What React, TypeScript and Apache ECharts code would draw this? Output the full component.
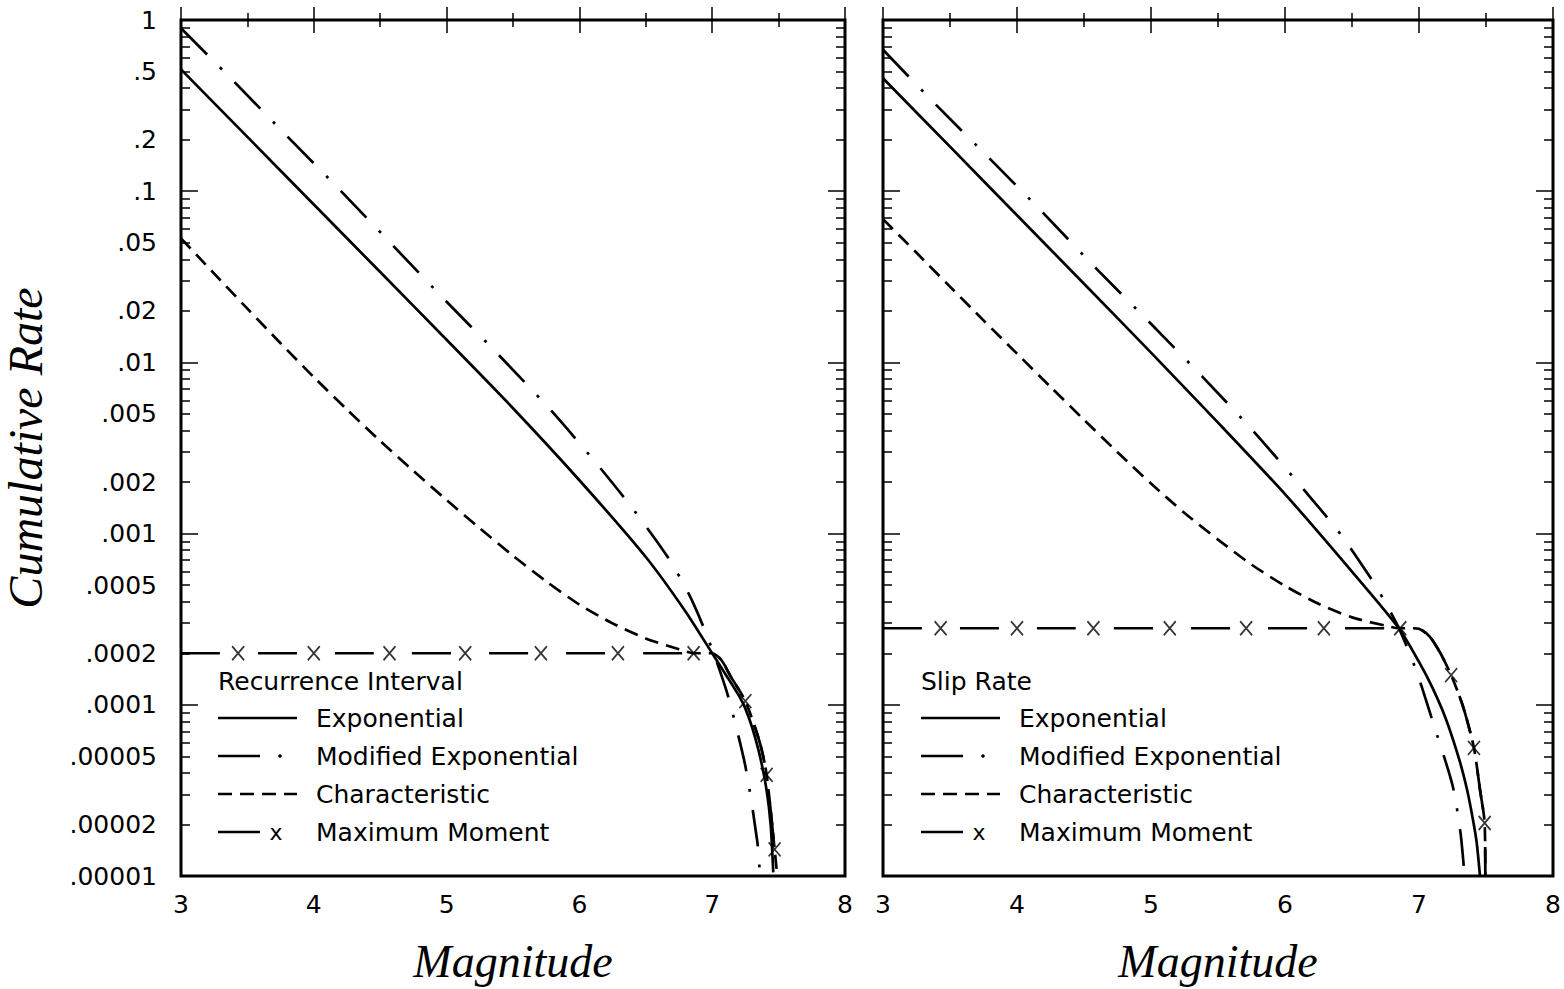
import React, { useEffect, useRef } from "react";
import * as echarts from "echarts";

// ---- Axis ticks ----
const magnitudeMin = 3;
const magnitudeMax = 8;

const rateTicks = [1, 0.5, 0.2, 0.1, 0.05, 0.02, 0.01, 0.005, 0.002, 0.001, 0.0005, 0.0002, 0.0001, 0.00005, 0.00002, 0.00001];
const rateTickLabels = ["1", ".5", ".2", ".1", ".05", ".02", ".01", ".005", ".002", ".001", ".0005", ".0002", ".0001", ".00005", ".00002", ".00001"];
const decadeTicks = [1, 0.1, 0.01, 0.001, 0.0001, 0.00001];
const minorTickRates = [
  0.9, 0.8, 0.7, 0.6, 0.5, 0.4, 0.3, 0.2,
  0.09, 0.08, 0.07, 0.06, 0.05, 0.04, 0.03, 0.02,
  0.009, 0.008, 0.007, 0.006, 0.005, 0.004, 0.003, 0.002,
  0.0009, 0.0008, 0.0007, 0.0006, 0.0005, 0.0004, 0.0003, 0.0002,
  0.00009, 0.00008, 0.00007, 0.00006, 0.00005, 0.00004, 0.00003, 0.00002,
];

// ---- Recurrence Interval panel ----
const riExpM = [3.0, 3.5, 4.0, 4.5, 5.0, 5.5, 6.0, 6.5, 6.8, 7.0, 7.1, 7.2, 7.25, 7.3, 7.36, 7.41, 7.44, 7.46];
const riExpRate = [0.515, 0.2075, 0.0836, 0.0337, 0.01355, 0.0054, 0.00205, 0.00073, 0.00035, 0.0002, 0.000151, 0.0001135, 0.000095, 0.000074, 0.00005, 0.0000316, 0.00002, 0.0000105];

const riModM = [3.0, 3.4, 3.8, 4.2, 4.6, 5.0, 5.4, 5.8, 6.16, 6.42, 6.67, 6.82, 6.93, 7.03, 7.12, 7.25, 7.34, 7.36];
const riModRate = [0.895, 0.436, 0.209, 0.101, 0.0478, 0.0226, 0.0109, 0.0051, 0.0024, 0.00134, 0.00072, 0.00045, 0.00029, 0.000182, 0.000112, 0.0000437, 0.0000158, 0.00001];

const riCharM = [3.0, 3.25, 3.5, 3.75, 4.0, 4.25, 4.5, 4.75, 5.0, 5.25, 5.5, 5.75, 6.0, 6.25, 6.5, 6.75, 6.87, 7.0, 7.07, 7.14, 7.25, 7.36, 7.41, 7.47, 7.49];
const riCharRate = [0.053, 0.033, 0.0206, 0.01294, 0.0082, 0.0053, 0.003475, 0.002323, 0.00157, 0.001074, 0.000743, 0.000526, 0.000385, 0.000299, 0.000244, 0.000211, 0.0002, 0.0002, 0.000182, 0.000146, 0.000105, 0.0000596, 0.000039, 0.0000143, 0.00001];

const riMaxM = [3.0, 6.9, 7.0, 7.07, 7.14, 7.25, 7.36, 7.41, 7.47, 7.49];
const riMaxRate = [0.0002, 0.0002, 0.0002, 0.000182, 0.000146, 0.000105, 0.0000596, 0.000039, 0.0000143, 0.00001];
const riMarkM = [3.43, 4.0, 4.57, 5.14, 5.71, 6.29, 6.86, 7.25, 7.41, 7.47];
const riMarkRate = [0.0002, 0.0002, 0.0002, 0.0002, 0.0002, 0.0002, 0.0002, 0.000105, 0.000039, 0.0000143];

// ---- Slip Rate panel ----
const srExpM = [3.0, 3.5, 4.0, 4.5, 5.0, 5.5, 6.0, 6.5, 6.85, 7.0, 7.1, 7.2, 7.3, 7.36, 7.4, 7.43, 7.455];
const srExpRate = [0.457, 0.182, 0.0724, 0.0288, 0.0114, 0.00445, 0.0017, 0.0006, 0.00028, 0.000178, 0.000126, 0.000083, 0.000048, 0.0000316, 0.0000219, 0.0000158, 0.00001];

const srModM = [3.0, 3.4, 3.8, 4.2, 4.59, 4.99, 5.39, 5.78, 6.15, 6.42, 6.66, 6.73, 6.85, 6.98, 7.1, 7.25, 7.31, 7.34];
const srModRate = [0.67, 0.317, 0.154, 0.074, 0.0354, 0.0171, 0.00815, 0.00384, 0.00177, 0.00098, 0.00052, 0.00042, 0.00028, 0.000158, 0.000081, 0.0000339, 0.0000178, 0.00001];

const srCharM = [3.0, 3.25, 3.5, 3.75, 4.0, 4.25, 4.5, 4.75, 5.0, 5.25, 5.5, 5.75, 6.0, 6.25, 6.5, 6.75, 6.85, 6.95, 7.0, 7.08, 7.16, 7.24, 7.33, 7.41, 7.455, 7.49, 7.495];
const srCharRate = [0.0687, 0.0437, 0.0277, 0.0176, 0.01125, 0.0072, 0.00462, 0.00299, 0.00196, 0.00132, 0.000923, 0.000659, 0.000495, 0.000389, 0.000324, 0.00029, 0.00028, 0.00028, 0.000278, 0.00025, 0.0002, 0.000149, 0.000097, 0.000056, 0.000032, 0.0000204, 0.00001];

const srMaxM = [3.0, 6.9, 7.0, 7.08, 7.16, 7.24, 7.33, 7.41, 7.455, 7.49, 7.495];
const srMaxRate = [0.00028, 0.00028, 0.000278, 0.00025, 0.0002, 0.000149, 0.000097, 0.000056, 0.000032, 0.0000204, 0.00001];
const srMarkM = [3.43, 4.0, 4.57, 5.14, 5.71, 6.29, 6.86, 7.24, 7.41, 7.49];
const srMarkRate = [0.00028, 0.00028, 0.00028, 0.00028, 0.00028, 0.00028, 0.00028, 0.000149, 0.000056, 0.0000204];

// ---- Legend text ----
const panelTitles = ["Recurrence Interval", "Slip Rate"];
const legendLabels = ["Exponential", "Modified Exponential", "Characteristic", "Maximum Moment"];

// ---- Styling ----
const INK = "#000";
const SANS = "DejaVu Sans";
const SERIF = "Liberation Serif";
const LINE_W = 2.7;
const DASH_DOT = [37, 18, 3, 18];
const SHORT_DASH = [14, 8];
const LONG_DASH = [39, 38];
const X_MARK = "path://M0,0L12,14M12,0L0,14";

const lg = Math.log10;
const pairs = (ms: number[], rates: number[]) => ms.map((m, i) => [m, lg(rates[i])]);

const gridRects = [
  { left: 180, top: 20, width: 665, height: 860 },
  { left: 883, top: 20, width: 670, height: 860 },
];

const rateLabel = (v: number) => {
  const i = rateTicks.findIndex((t) => Math.abs(lg(t) - v) < 1e-6);
  return i >= 0 ? rateTickLabels[i] : "";
};

const titleStyle = (size: number) => ({
  fontFamily: SERIF,
  fontStyle: "italic",
  fontSize: size,
  color: INK,
});

function magAxis(gridIndex: number, position: string, labels: boolean) {
  return {
    type: "value",
    gridIndex,
    position,
    min: magnitudeMin,
    max: magnitudeMax,
    interval: 1,
    axisLine: { show: false },
    axisTick: { show: true, inside: true, length: 13, lineStyle: { color: INK, width: 1.5 } },
    minorTick: { show: true, splitNumber: 2, length: 7, lineStyle: { color: INK, width: 1.5 } },
    splitLine: { show: false },
    minorSplitLine: { show: false },
    axisLabel: { show: labels, color: INK, fontFamily: SANS, fontSize: 25, margin: 16 },
    name: labels ? "Magnitude" : "",
    nameLocation: "middle",
    nameGap: 62,
    nameTextStyle: titleStyle(46),
  };
}

function rateAxis(gridIndex: number, position: string, major: boolean, labels: boolean) {
  return {
    type: "value",
    gridIndex,
    position,
    min: -5,
    max: 0,
    axisLine: { show: false },
    axisTick: {
      show: true,
      inside: true,
      length: major ? 17 : 9,
      customValues: (major ? decadeTicks : minorTickRates).map(lg),
      lineStyle: { color: INK, width: 1.5 },
    },
    splitLine: { show: false },
    axisLabel: labels
      ? {
          show: true,
          customValues: rateTicks.map(lg),
          formatter: rateLabel,
          color: INK,
          fontFamily: SANS,
          fontSize: 25,
          margin: 24,
        }
      : { show: false },
    name: labels ? "Cumulative Rate" : "",
    nameLocation: "middle",
    nameGap: 132,
    nameTextStyle: titleStyle(48),
  };
}

function panelSeries(
  g: number,
  exp: number[][],
  mod: number[][],
  chr: number[][],
  max: number[][],
  marks: number[][]
) {
  const base = { type: "line", xAxisIndex: g * 2, yAxisIndex: g * 4, symbol: "none", smooth: 0.25, silent: true };
  return [
    { ...base, name: legendLabels[0], data: exp, lineStyle: { color: INK, width: LINE_W } },
    { ...base, name: legendLabels[1], data: mod, lineStyle: { color: INK, width: LINE_W, type: DASH_DOT } },
    { ...base, name: legendLabels[2], data: chr, lineStyle: { color: INK, width: LINE_W, type: SHORT_DASH } },
    { ...base, name: legendLabels[3], data: max, lineStyle: { color: INK, width: LINE_W, type: LONG_DASH } },
    {
      type: "scatter",
      xAxisIndex: g * 2,
      yAxisIndex: g * 4,
      data: marks,
      symbol: X_MARK,
      symbolSize: [12, 14],
      silent: true,
      itemStyle: { color: "rgba(0,0,0,0)", borderColor: INK, borderWidth: 1.7 },
    },
  ];
}

function legendGraphic(ox: number, title: string) {
  const textX = ox + 98;
  const rowsY = [718, 756, 794, 832];
  const font = { fontFamily: SANS, fontSize: 25, fill: INK, verticalAlign: "middle", align: "left" };
  const els: any[] = [{ type: "text", x: ox, y: 681, style: { ...font, text: title } }];
  legendLabels.forEach((label, i) => {
    els.push({ type: "text", x: textX, y: rowsY[i], style: { ...font, text: label } });
  });
  els.push({ type: "line", shape: { x1: ox, y1: rowsY[0], x2: ox + 79, y2: rowsY[0] }, style: { stroke: INK, lineWidth: LINE_W } });
  els.push({ type: "line", shape: { x1: ox, y1: rowsY[1], x2: ox + 42, y2: rowsY[1] }, style: { stroke: INK, lineWidth: LINE_W } });
  els.push({ type: "circle", shape: { cx: ox + 62, cy: rowsY[1], r: 1.8 }, style: { fill: INK } });
  els.push({ type: "line", shape: { x1: ox, y1: rowsY[2], x2: ox + 79, y2: rowsY[2] }, style: { stroke: INK, lineWidth: LINE_W, lineDash: SHORT_DASH } });
  els.push({ type: "line", shape: { x1: ox, y1: rowsY[3], x2: ox + 42, y2: rowsY[3] }, style: { stroke: INK, lineWidth: LINE_W } });
  els.push({ type: "text", x: ox + 58, y: rowsY[3], style: { ...font, fontSize: 22, align: "center", text: "x" } });
  return els;
}

const option = {
  animation: false,
  backgroundColor: "#fff",
  grid: gridRects.map((r) => ({ ...r, show: true, borderColor: INK, borderWidth: 3, backgroundColor: "transparent" })),
  xAxis: [magAxis(0, "bottom", true), magAxis(0, "top", false), magAxis(1, "bottom", true), magAxis(1, "top", false)],
  yAxis: [
    rateAxis(0, "left", true, true),
    rateAxis(0, "left", false, false),
    rateAxis(0, "right", true, false),
    rateAxis(0, "right", false, false),
    rateAxis(1, "left", true, false),
    rateAxis(1, "left", false, false),
    rateAxis(1, "right", true, false),
    rateAxis(1, "right", false, false),
  ],
  series: [
    ...panelSeries(0, pairs(riExpM, riExpRate), pairs(riModM, riModRate), pairs(riCharM, riCharRate), pairs(riMaxM, riMaxRate), pairs(riMarkM, riMarkRate)),
    ...panelSeries(1, pairs(srExpM, srExpRate), pairs(srModM, srModRate), pairs(srCharM, srCharRate), pairs(srMaxM, srMaxRate), pairs(srMarkM, srMarkRate)),
  ],
  graphic: [...legendGraphic(218, panelTitles[0]), ...legendGraphic(921, panelTitles[1])],
};

export default function App() {
  const ref = useRef<HTMLDivElement>(null);
  useEffect(() => {
    const chart = echarts.init(ref.current!, null, { renderer: "svg" });
    chart.setOption(option as any);
    return () => chart.dispose();
  }, []);
  return (
    <div
      ref={ref}
      style={{ position: "absolute", left: 0, top: 0, width: 1564, height: 989, background: "#fff" }}
    />
  );
}
